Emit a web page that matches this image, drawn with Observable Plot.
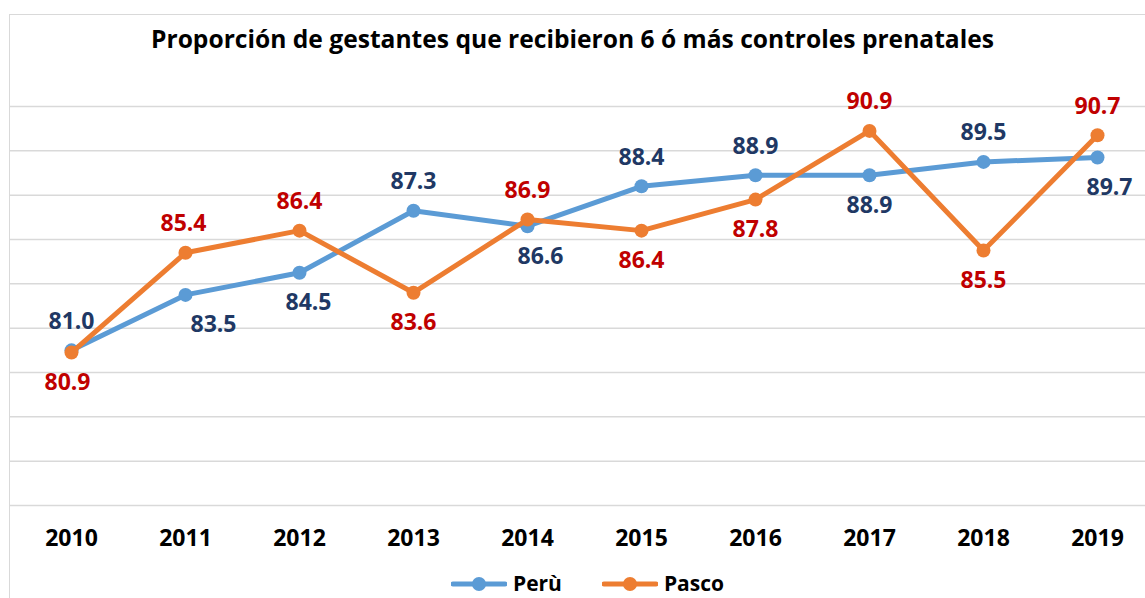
<!DOCTYPE html>
<html><head><meta charset="utf-8">
<script src="https://cdn.jsdelivr.net/npm/d3@7"></script>
<script src="https://cdn.jsdelivr.net/npm/@observablehq/plot@0.6"></script>
<style>
body{margin:0;background:#fff;overflow:hidden;font-family:"Open Sans",sans-serif;}
#wrap{position:relative;width:1145px;height:598px;overflow:hidden;}
#frame{position:absolute;left:9px;top:14px;width:1300px;height:800px;border:1.5px solid #d9d9d9;box-sizing:border-box;}
#chart{position:absolute;left:0;top:0;}
#title{position:absolute;top:22px;left:0;width:1145px;text-align:center;font-weight:700;font-size:24.6px;color:#000;}
#legend{position:absolute;left:0;top:571px;width:1145px;display:flex;justify-content:center;gap:40px;font-weight:700;font-size:21px;line-height:25px;color:#000;padding-left:30px;box-sizing:border-box;}
.item{display:flex;align-items:center;gap:6px;}
</style>
</head><body>
<div id="wrap"><div id="frame"></div><div id="chart"></div><div id="title"></div><div id="legend"></div></div>
<script>
const title = "Proporción de gestantes que recibieron 6 ó más controles prenatales";
const years = [2010, 2011, 2012, 2013, 2014, 2015, 2016, 2017, 2018, 2019];
const peru  = [81.0, 83.5, 84.5, 87.3, 86.6, 88.4, 88.9, 88.9, 89.5, 89.7];
const pasco = [80.9, 85.4, 86.4, 83.6, 86.9, 86.4, 87.8, 90.9, 85.5, 90.7];
const seriesNames = ["Perù", "Pasco"];
const yTicks = [74, 76, 78, 80, 82, 84, 86, 88, 90, 92];
// label placement relative to each point
const peruLabelSide  = ["above","below","below","above","below","above","above","below","above","below"];
const pascoLabelSide = ["below","above","above","below","above","below","below","above","below","above"];
const peruLabelNudge  = [0, 28, 9, 0, 13, 0, 0, 0, 0, 12];
const pascoLabelNudge = [-4, -2, 0, 0, 0, 0, 0, 0, 0, 0];

const colors = {line: ["#5B9BD5", "#ED7D31"], label: ["#203864", "#C00000"]};

document.getElementById("title").textContent = title;

const rows = (vals, name) => years.map((y, i) => ({year: String(y), value: vals[i], series: name}));
const peruRows = rows(peru, seriesNames[0]);
const pascoRows = rows(pasco, seriesNames[1]);

const labelMarks = [];
[[peruRows, peruLabelSide, peruLabelNudge, colors.label[0]],
 [pascoRows, pascoLabelSide, pascoLabelNudge, colors.label[1]]].forEach(([data, side, nudge, col]) => {
  data.forEach((d, i) => {
    labelMarks.push(Plot.text([d], {
      x: "year", y: "value", text: d => d.value.toFixed(1),
      dx: nudge[i], dy: side[i] === "above" ? -29 : 30,
      fill: col, fontSize: 23, fontWeight: 700
    }));
  });
});

const chart = Plot.plot({
  width: 1145, height: 598,
  marginLeft: 10, marginRight: 0, marginTop: 106, marginBottom: 93,
  style: {fontFamily: "'Open Sans', sans-serif", background: "transparent", overflow: "visible"},
  x: {type: "point", domain: years.map(String), range: [67, 1101], padding: 0, label: null},
  y: {domain: [74, 92], label: null, axis: null},
  marks: [
    Plot.gridY(yTicks, {stroke: "#d9d9d9", strokeOpacity: 1, strokeWidth: 1.5}),
    Plot.axisX({tickSize: 0, tickPadding: 24, fontSize: 23, fontWeight: 700, fill: "#000", label: null}),
    Plot.line(peruRows, {x: "year", y: "value", stroke: colors.line[0], strokeWidth: 5}),
    Plot.dot(peruRows, {x: "year", y: "value", r: 7, fill: colors.line[0]}),
    Plot.line(pascoRows, {x: "year", y: "value", stroke: colors.line[1], strokeWidth: 5}),
    Plot.dot(pascoRows, {x: "year", y: "value", r: 7, fill: colors.line[1]}),
    ...labelMarks
  ]
});
chart.querySelectorAll("g[aria-label='x-axis tick label'] text").forEach(t => t.setAttribute("font-weight", "700"));
document.getElementById("chart").appendChild(chart);

const legend = document.getElementById("legend");
seriesNames.forEach((name, i) => {
  const item = document.createElement("div");
  item.className = "item";
  item.innerHTML = `<svg width="56" height="16"><line x1="2" x2="54" y1="8" y2="8" stroke="${colors.line[i]}" stroke-width="5" stroke-linecap="round"/><circle cx="28" cy="8" r="7" fill="${colors.line[i]}"/></svg><span>${name}</span>`;
  legend.appendChild(item);
});
</script>
</body></html>
